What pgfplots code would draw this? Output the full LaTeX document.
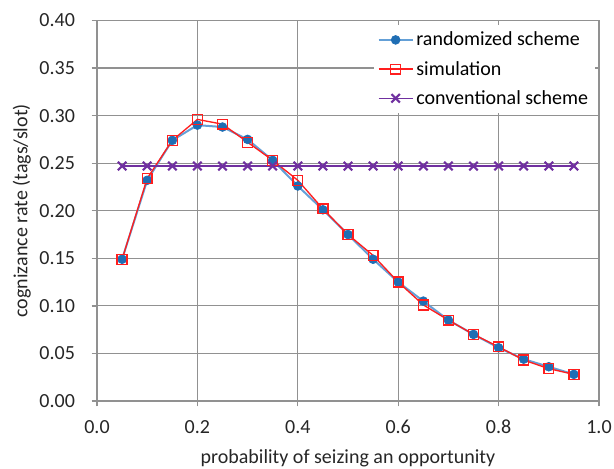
\documentclass[border=0pt]{standalone}
\usepackage{fontspec}
\setmainfont{Carlito}
\usepackage{pgfplots}
\pgfplotsset{compat=1.18}
\definecolor{rsblue}{RGB}{31,110,180}
\definecolor{rsline}{RGB}{100,160,215}
\definecolor{simred}{RGB}{255,30,30}
\definecolor{convpurple}{RGB}{112,48,160}
\definecolor{gridgray}{RGB}{145,145,145}
\newcommand{\lblfont}{\fontsize{15}{18}\selectfont}

\begin{document}
\begin{tikzpicture}[x=0.75pt,y=0.75pt]
% page is 614 x 468 px; plot area runs from (97,401) to (599,20.5)
\useasboundingbox (-97,-67) rectangle (517,401);
\begin{axis}[
    at={(0,0)}, anchor=south west,
    width=376.5pt, height=285.4pt,
    scale only axis,
    xmin=0, xmax=1.0,
    ymin=0, ymax=0.40,
    xtick={0,0.2,0.4,0.6,0.8,1.0},
    ytick={0,0.05,0.10,0.15,0.20,0.25,0.30,0.35,0.40},
    tick label style={font=\lblfont, text=black!85},
    xticklabel style={anchor=base, yshift=-20pt,
        /pgf/number format/fixed, /pgf/number format/fixed zerofill,
        /pgf/number format/precision=1},
    yticklabel style={anchor=east, xshift=-9pt,
        /pgf/number format/fixed, /pgf/number format/fixed zerofill,
        /pgf/number format/precision=2},
    /pgf/number format/assume math mode=true,
    label style={font=\lblfont, text=black!85},
    xlabel={probability of seizing an opportunity},
    ylabel={cognizance rate (tags/slot)},
    xlabel style={at={(axis description cs:0.5,0)}, anchor=base, yshift=-46.5pt},
    ylabel style={at={(axis description cs:-0.150,0.5)}, anchor=center},
    grid=major,
    grid style={line width=0.9pt, draw=gridgray},
    axis lines=left,
    axis line style={-, line width=1.6pt, draw=gridgray},
    tick style={draw=gridgray, line width=1pt},
    xtick pos=bottom, ytick pos=left,
    tick align=outside,
    major tick length=4pt,
    legend style={at={(0.992,0.988)}, anchor=north east, draw=none, fill=white,
        font=\lblfont, row sep=6pt, inner xsep=3pt, inner ysep=3pt},
    legend cell align=left,
    legend image code/.code={
        \draw[mark repeat=2,mark phase=2] plot coordinates {(0cm,0cm) (0.45cm,0cm) (0.9cm,0cm)};},
]
\addplot[color=rsline, line width=1.5pt, mark=*, mark size=3.3pt,
    mark options={draw=rsblue, fill=rsblue, line width=0.5pt}] coordinates {
    (0.05,0.149) (0.10,0.232) (0.15,0.274) (0.20,0.290) (0.25,0.288)
    (0.30,0.275) (0.35,0.253) (0.40,0.226) (0.45,0.201) (0.50,0.175)
    (0.55,0.149) (0.60,0.125) (0.65,0.105) (0.70,0.085) (0.75,0.070)
    (0.80,0.056) (0.85,0.044) (0.90,0.036) (0.95,0.028)
};
\addlegendentry{randomized scheme}
\addplot[color=simred, line width=1pt, mark=square, mark size=3.7pt,
    mark options={line width=1pt}] coordinates {
    (0.05,0.149) (0.10,0.234) (0.15,0.274) (0.20,0.296) (0.25,0.291)
    (0.30,0.272) (0.35,0.253) (0.40,0.232) (0.45,0.202) (0.50,0.175)
    (0.55,0.153) (0.60,0.125) (0.65,0.101) (0.70,0.085) (0.75,0.070)
    (0.80,0.057) (0.85,0.043) (0.90,0.034) (0.95,0.028)
};
\addlegendentry{simulation}
\addplot[color=convpurple, line width=1.2pt, mark=x, mark size=4.5pt,
    mark options={line width=1.6pt}] coordinates {
    (0.05,0.247) (0.10,0.247) (0.15,0.247) (0.20,0.247) (0.25,0.247)
    (0.30,0.247) (0.35,0.247) (0.40,0.247) (0.45,0.247) (0.50,0.247)
    (0.55,0.247) (0.60,0.247) (0.65,0.247) (0.70,0.247) (0.75,0.247)
    (0.80,0.247) (0.85,0.247) (0.90,0.247) (0.95,0.247)
};
\addlegendentry{conventional scheme}
\end{axis}
\end{tikzpicture}
\end{document}
